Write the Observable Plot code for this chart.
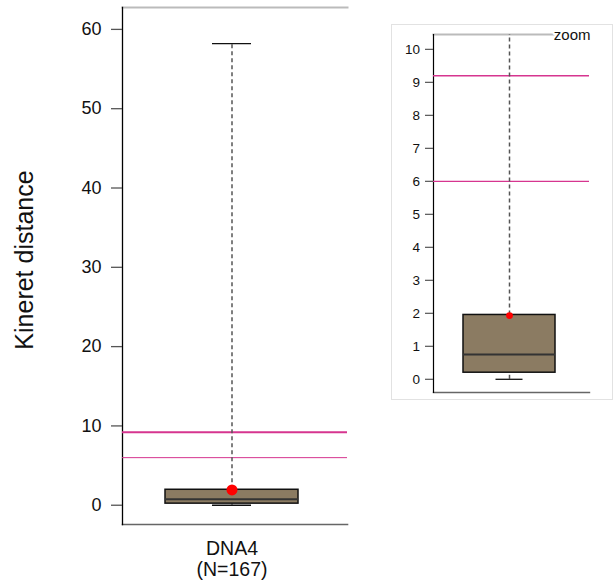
<!DOCTYPE html>
<html>
<head>
<meta charset="utf-8">
<script src="https://cdn.jsdelivr.net/npm/d3@7"></script>
<script src="https://cdn.jsdelivr.net/npm/@observablehq/plot@0.6"></script>
<style>
  html, body { margin: 0; padding: 0; background: #fff; }
  #wrap { position: relative; width: 613px; height: 587px; font-family: "Liberation Sans", Arial, sans-serif; }
  #main { position: absolute; left: 0; top: 0; }
  #inset { position: absolute; left: 391px; top: 24px; border: 1px solid #e2e2e2; width: 220px; height: 374px; }
  svg { display: block; }
</style>
</head>
<body>
<div id="wrap">
  <div id="main"></div>
  <div id="inset"></div>
</div>
<script>
// ---- data ----
const categories   = ["DNA4"];
const counts       = [167];
const whiskerLow   = [0];
const q1           = [0.2];
const median       = [0.75];
const q3           = [1.95];
const whiskerHigh  = [58.2];
const pointValue   = [1.93];
const refLines     = [9.2, 6.0];
const mainTicks    = [0, 10, 20, 30, 40, 50, 60];
const zoomTicks    = [0, 1, 2, 3, 4, 5, 6, 7, 8, 9, 10];
const yTitle       = "Kineret distance";
const zoomLabel    = "zoom";

const rows = categories.map((c, i) => ({
  cat: c, n: counts[i], lo: whiskerLow[i], q1: q1[i], med: median[i],
  q3: q3[i], hi: whiskerHigh[i], pt: pointValue[i]
}));

const boxFill = "#8b7b62";
const magenta = "#d6358f";
const font = "Liberation Sans, Arial, sans-serif";

function boxMarks(opts) {
  return [
    Plot.ruleY([refLines[0]], {stroke: magenta, strokeWidth: opts.ref1W}),
    Plot.ruleY([refLines[1]], {stroke: magenta, strokeWidth: opts.ref2W}),
    Plot.ruleX(rows, {x: "cat", y1: "q3", y2: "hi", stroke: "#555", strokeWidth: 1.5, strokeDasharray: "4,3", clip: true}),
    Plot.ruleX(rows, {x: "cat", y1: "lo", y2: "q1", stroke: "#555", strokeWidth: 1.5, strokeDasharray: "4,3", clip: true}),
    Plot.tickY(rows, {x: "cat", y: "hi", stroke: "#111", strokeWidth: 1.3, insetLeft: opts.capInset, insetRight: opts.capInset, clip: true}),
    Plot.tickY(rows, {x: "cat", y: "lo", stroke: "#111", strokeWidth: 1.3, insetLeft: opts.capInset, insetRight: opts.capInset}),
    Plot.barY(rows, {x: "cat", y1: "q1", y2: "q3", fill: boxFill, stroke: "#111", strokeWidth: 1.5}),
    Plot.tickY(rows, {x: "cat", y: "med", stroke: "#333", strokeWidth: 2}),
    Plot.dot(rows, {x: "cat", y: "pt", r: opts.dotR, fill: "red", stroke: "none"})
  ];
}

// ---- main panel ----
const mainDomain = [-2.43, 62.76];
const mainPlot = Plot.plot({
  width: 350,
  height: 587,
  marginLeft: 122,
  marginRight: 3,
  marginTop: 7,
  marginBottom: 63,
  style: {fontFamily: font, background: "transparent", overflow: "visible"},
  x: {type: "band", domain: categories, paddingInner: 0, paddingOuter: 0.341, align: 0.471},
  y: {domain: mainDomain},
  marks: [
    Plot.frame({anchor: "top", stroke: "#bbb", strokeWidth: 2}),
    Plot.frame({anchor: "bottom", stroke: "#666", strokeWidth: 1.6}),
    Plot.frame({anchor: "left", stroke: "#000", strokeWidth: 1.3}),
    Plot.axisY({ticks: mainTicks, tickSize: 11, tickPadding: 10, fontSize: 18, stroke: "#555", strokeWidth: 1.3, color: "#111", label: null}),
    Plot.axisX({tickSize: 0, tickPadding: 15, fontSize: 19.5, lineHeight: 1.1, color: "#111", label: null,
      tickFormat: d => `${d}\n(N=${counts[categories.indexOf(d)]})`}),
    ...boxMarks({ref1W: 2.2, ref2W: 1, capInset: 47, dotR: 5.5}),
    Plot.text([yTitle], {frameAnchor: "left", textAnchor: "middle", lineAnchor: "middle", dx: -98, dy: -6, rotate: -90, fontSize: 25, fill: "#111", text: d => d})
  ]
});
document.getElementById("main").appendChild(mainPlot);

// ---- zoom inset ----
const zoomDomain = [-0.40, 10.45];
const zoomPlot = Plot.plot({
  width: 220,
  height: 374,
  marginLeft: 41,
  marginRight: 23,
  marginTop: 9,
  marginBottom: 7,
  style: {fontFamily: font, background: "transparent", overflow: "visible"},
  x: {type: "band", domain: categories, paddingInner: 0, paddingOuter: 0.344, align: 0.471, axis: null},
  y: {domain: zoomDomain},
  marks: [
    Plot.frame({anchor: "top", stroke: "#bbb", strokeWidth: 2}),
    Plot.frame({anchor: "bottom", stroke: "#666", strokeWidth: 1.4}),
    Plot.frame({anchor: "left", stroke: "#000", strokeWidth: 1.2}),
    Plot.axisY({ticks: zoomTicks, tickSize: 8, tickPadding: 5.5, fontSize: 13.5, stroke: "#555", strokeWidth: 1.2, color: "#111", label: null}),
    ...boxMarks({ref1W: 1.6, ref2W: 1.2, capInset: 32.5, dotR: 3.4}),
    Plot.text([zoomLabel], {frameAnchor: "top-right", lineAnchor: "bottom", textAnchor: "end", dx: 1, dy: 5, fontSize: 15, fill: "#111", stroke: "white", strokeWidth: 4, paintOrder: "stroke", text: d => d})
  ]
});
document.getElementById("inset").appendChild(zoomPlot);

// debug: mark where the stray line comes from
const dbg = document.createElement("div");
dbg.style.cssText = "position:absolute;left:0;top:0;width:5px;height:5px;";
document.getElementById("wrap").appendChild(dbg);
</script>
</body>
</html>
